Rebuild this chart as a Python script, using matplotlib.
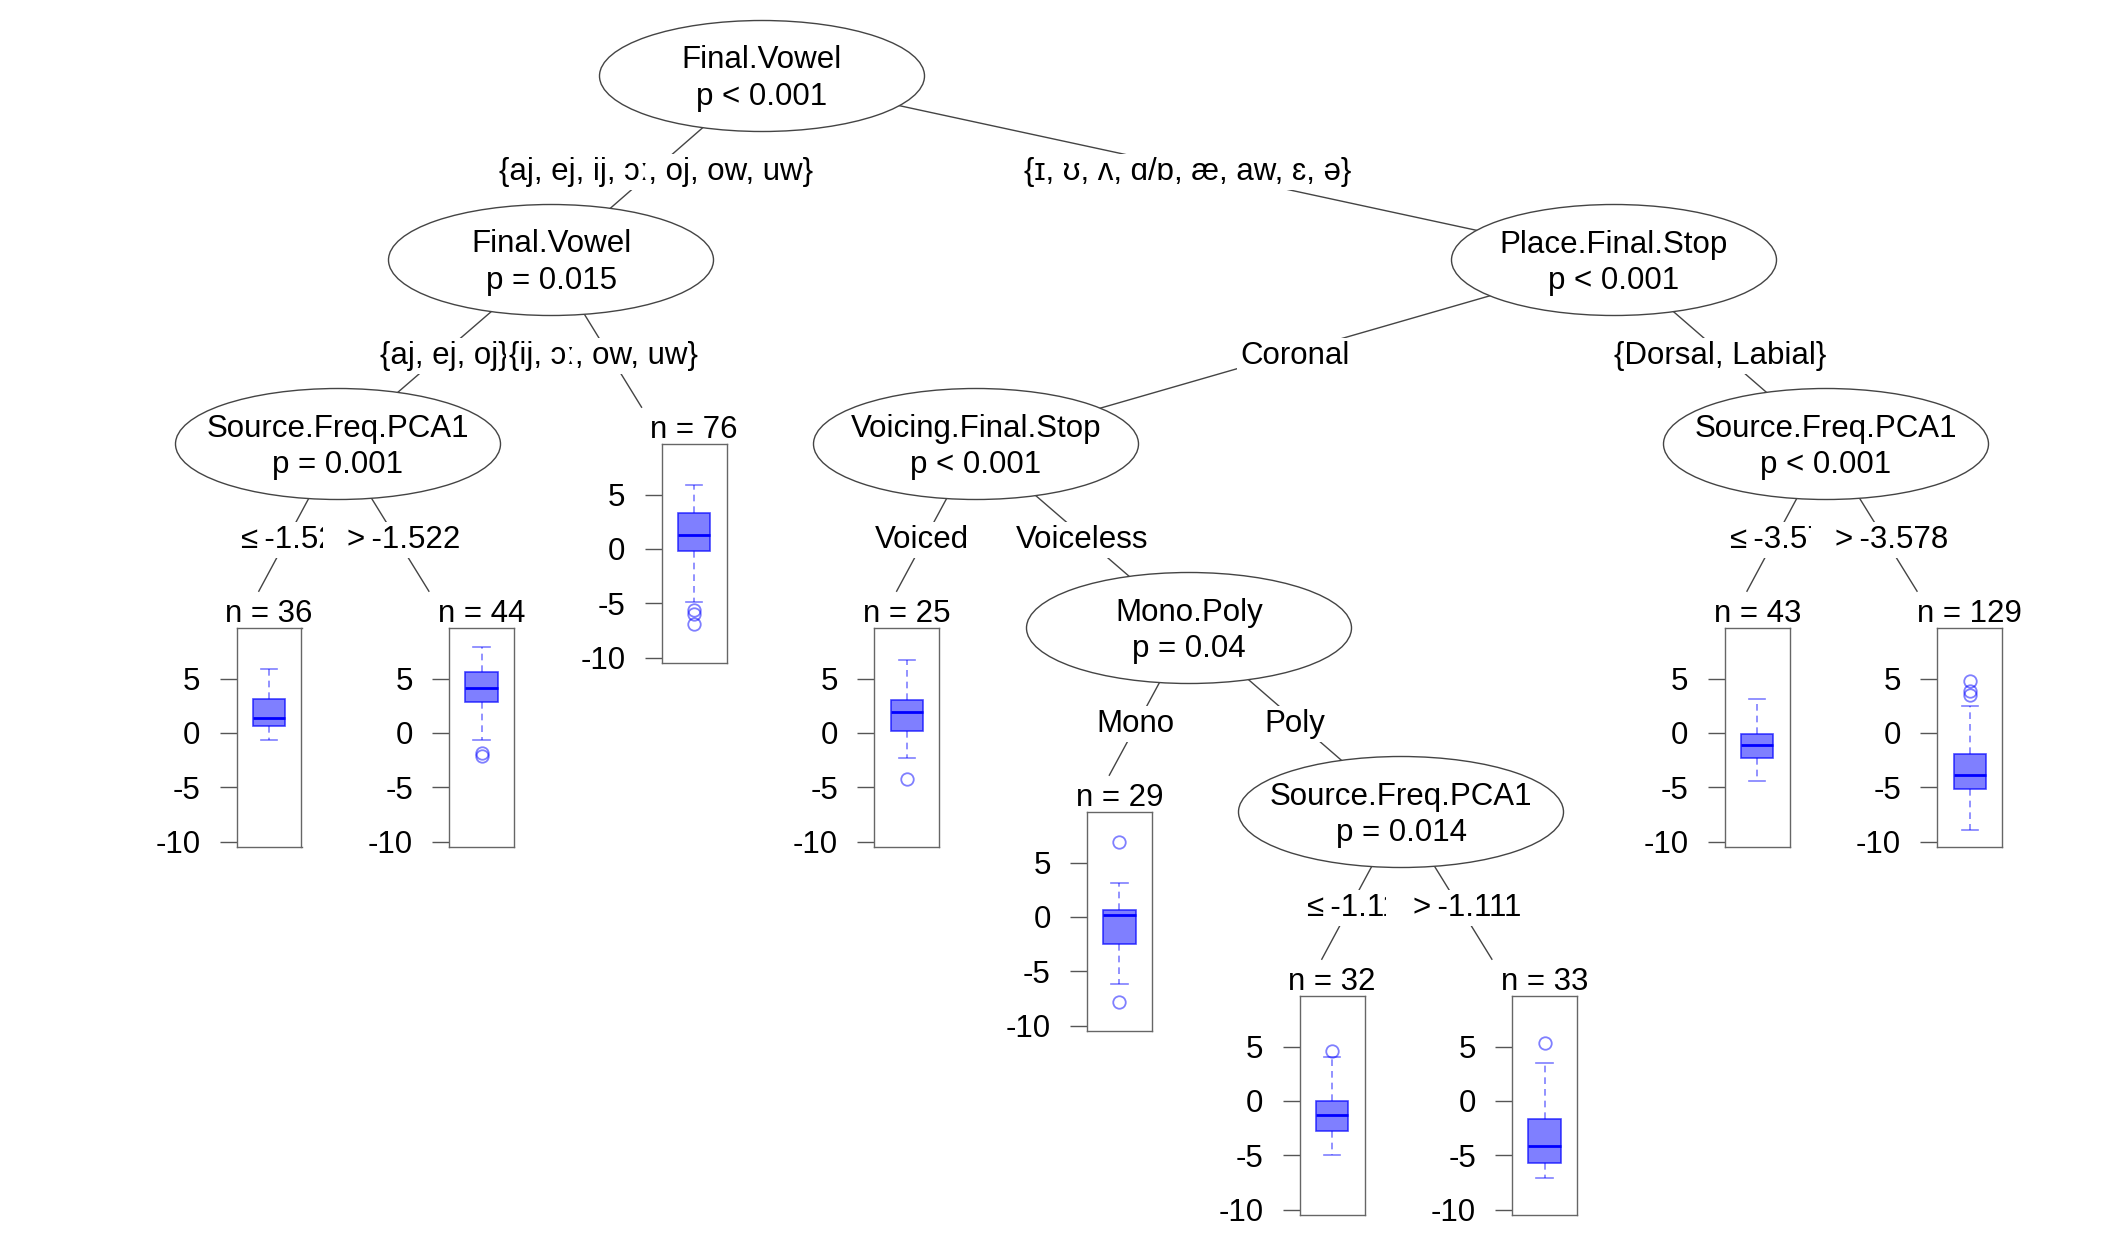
import matplotlib
matplotlib.use('Agg')
import matplotlib.pyplot as plt
from matplotlib.patches import Ellipse
from matplotlib.transforms import Bbox

plt.rcParams['font.family'] = ['Liberation Sans', 'DejaVu Sans']

W, H = 2123, 1233
FS = 22.5

# inner (split) nodes
inner_names = ['root', 'fv2', 'pfs', 'sfl', 'vfs', 'sfr', 'mp', 'sfm']
inner_var = ['Final.Vowel', 'Final.Vowel', 'Place.Final.Stop', 'Source.Freq.PCA1',
             'Voicing.Final.Stop', 'Source.Freq.PCA1', 'Mono.Poly', 'Source.Freq.PCA1']
inner_p = ['p < 0.001', 'p = 0.015', 'p < 0.001', 'p = 0.001',
           'p < 0.001', 'p < 0.001', 'p = 0.04', 'p = 0.014']

# terminal nodes: box plot statistics
leaf_names = ['n36', 'n44', 'n76', 'n25', 'n29', 'n32', 'n33', 'n43', 'n129']
leaf_n = [36, 44, 76, 25, 29, 32, 33, 43, 129]
leaf_whislo = [-0.70, -0.67, -4.92, -2.27, -6.17, -5.00, -7.08, -4.45, -8.90]
leaf_q1 = [0.61, 2.85, -0.22, 0.21, -2.52, -2.73, -5.70, -2.30, -5.12]
leaf_med = [1.38, 4.13, 1.32, 1.96, 0.15, -1.29, -4.17, -1.13, -3.86]
leaf_q3 = [3.15, 5.60, 3.26, 3.04, 0.67, 0.00, -1.66, -0.06, -1.90]
leaf_whishi = [5.91, 7.93, 5.88, 6.75, 3.16, 4.05, 3.50, 3.10, 2.48]
leaf_fliers = [[], [-1.84, -2.14], [-5.6, -6.0, -6.9], [-4.2], [6.9, -7.8],
               [4.57], [5.34], [], [4.75, 3.83, 3.44]]
yticks = [-10, -5, 0, 5]

# tree edges: parent, child, split label
edges = [
    ('root', 'fv2', '{aj, ej, ij, ɔː, oj, ow, uw}'),
    ('root', 'pfs', '{ɪ, ʊ, ʌ, ɑ/ɒ, æ, aw, ɛ, ə}'),
    ('fv2', 'sfl', '{aj, ej, oj}'),
    ('fv2', 'n76', '{ij, ɔː, ow, uw}'),
    ('pfs', 'vfs', 'Coronal'),
    ('pfs', 'sfr', '{Dorsal, Labial}'),
    ('sfl', 'n36', '≤\u2009-1.522'),
    ('sfl', 'n44', '>\u2009-1.522'),
    ('vfs', 'n25', 'Voiced'),
    ('vfs', 'mp', 'Voiceless'),
    ('mp', 'n29', 'Mono'),
    ('mp', 'sfm', 'Poly'),
    ('sfm', 'n32', '≤\u2009-1.111'),
    ('sfm', 'n33', '>\u2009-1.111'),
    ('sfr', 'n43', '≤\u2009-3.578'),
    ('sfr', 'n129', '>\u2009-3.578'),
]

# ---- layout (pixels) ----
LEVEL = 184
lev_y = [76 + LEVEL * k for k in range(5)]
pos = {'root': (762, lev_y[0]), 'fv2': (551, lev_y[1]), 'pfs': (1614, lev_y[1]),
       'sfl': (338, lev_y[2]), 'vfs': (976, lev_y[2]), 'sfr': (1826, lev_y[2]),
       'mp': (1189, lev_y[3]), 'sfm': (1401, lev_y[4])}
leaf_x = [269 + 212.6 * i for i in range(9)]
leaf_parent = {}
for p, c, _ in edges:
    if c in leaf_names:
        leaf_parent[c] = p
EW, EH = 325, 111
BW, BH = 65, 219
LINE = '#444444'

fig = plt.figure(figsize=(W / 100, H / 100), dpi=100)
ax = fig.add_axes([0, 0, 1, 1])
ax.set_xlim(0, W)
ax.set_ylim(H, 0)
ax.axis('off')

for p, c, lab in edges:
    px, py = pos[p]
    if c in pos:
        cx, cy = pos[c]
        ex, ey = cx, cy
        dx = 0
    else:
        cx = leaf_x[leaf_names.index(c)] - 30
        cy = py + LEVEL
        ex, ey = px + 0.8 * (cx - px), py + 0.8 * (cy - py)
        dx = 9 if lab[0] in '≤>' else -4
    ax.plot([px, ex], [py, ey], color=LINE, lw=1, zorder=1)
    t = ax.text((px + cx) / 2 + dx, (py + cy) / 2 + 4, lab, ha='center', va='center',
                fontsize=FS, zorder=2,
                bbox=dict(boxstyle='square,pad=0.1', fc='white', ec='none'))
    if lab.startswith('≤'):
        t.set_clip_box(Bbox.from_extents(0, 0, px - 15.5, H))
        t.set_clip_on(True)

for name, var, pv in zip(inner_names, inner_var, inner_p):
    x, y = pos[name]
    ax.add_patch(Ellipse((x, y), EW, EH, fc='white', ec=LINE, lw=1, zorder=3))
    ax.text(x, y - 19, var, ha='center', va='center_baseline', fontsize=FS, zorder=4)
    ax.text(x, y + 18, pv, ha='center', va='center_baseline', fontsize=FS, zorder=4)

blue = (0, 0, 1)
blue_a = (0, 0, 1, 0.5)
for i, name in enumerate(leaf_names):
    x = leaf_x[i]
    py = pos[leaf_parent[name]][1]
    top = py + LEVEL
    ax.text(x, py + 166, f'n = {leaf_n[i]}', ha='center', va='center_baseline',
            fontsize=FS, zorder=4)
    axb = fig.add_axes([(x - BW / 2) / W, 1 - (top + BH) / H, BW / W, BH / H])
    stats = [dict(med=leaf_med[i], q1=leaf_q1[i], q3=leaf_q3[i],
                  whislo=leaf_whislo[i], whishi=leaf_whishi[i], fliers=leaf_fliers[i])]
    axb.bxp(stats, positions=[0], widths=0.5, capwidths=0.25, patch_artist=True,
            boxprops=dict(facecolor=blue_a, edgecolor=(0, 0, 1, 0.7), lw=1.2),
            medianprops=dict(color=blue, lw=2),
            whiskerprops=dict(color=blue_a, lw=1.2, ls=(0, (4, 3))),
            capprops=dict(color=blue_a, lw=1.2),
            flierprops=dict(marker='o', mfc='none', mec=blue_a, ms=9, mew=1.3))
    axb.set_xlim(-0.5, 0.5)
    axb.set_ylim(-10.5, 9.65)
    axb.set_xticks([])
    axb.set_yticks(yticks)
    axb.set_yticklabels([str(v) for v in yticks])
    axb.tick_params(axis='y', length=12, width=1, color='#555555', labelsize=FS, pad=14)
    for s in axb.spines.values():
        s.set_color('#666666')
        s.set_linewidth(1)

fig.savefig('out.png', dpi=100)
